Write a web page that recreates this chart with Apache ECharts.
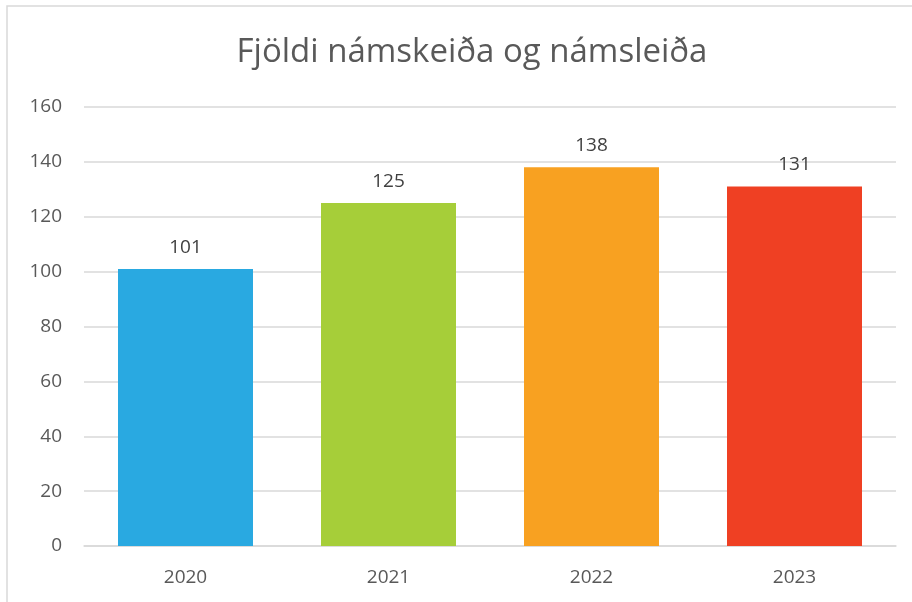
<!DOCTYPE html>
<html>
<head>
<meta charset="utf-8">
<script src="https://cdn.jsdelivr.net/npm/echarts@6/dist/echarts.min.js"></script>
<style>
  html, body { margin: 0; padding: 0; background: #fff; }
  #main { width: 912px; height: 602px; }
</style>
</head>
<body>
<div id="main"></div>
<script>
var titleText = 'Fjöldi námskeiða og námsleiða';
var years = ['2020', '2021', '2022', '2023'];
var counts = [101, 125, 138, 131];
var barColors = ['#29A9E1', '#A6CE39', '#F8A121', '#EF4023'];
var yTicks = [0, 20, 40, 60, 80, 100, 120, 140, 160];

var font = 'Open Sans, Liberation Sans, sans-serif';

var option = {
    animation: false,
    graphic: [{
        type: 'rect',
        shape: { x: 7, y: 6, width: 920, height: 620 },
        style: { fill: 'none', stroke: '#d9d9d9', lineWidth: 1.5 },
        silent: true
    }],
    title: {
        text: titleText,
        left: 467,
        top: 31,
        textAlign: 'center',
        textStyle: {
            fontFamily: font,
            fontWeight: 'normal',
            fontSize: 33,
            color: '#595959'
        }
    },
    grid: {
        left: 84,
        right: 16,
        top: 107,
        bottom: 56,
        containLabel: false
    },
    xAxis: {
        type: 'category',
        data: years,
        axisTick: { show: false },
        axisLine: { show: true, lineStyle: { color: '#d9d9d9', width: 1.5 } },
        axisLabel: {
            margin: 22,
            fontFamily: font,
            fontSize: 19,
            color: '#595959'
        }
    },
    yAxis: {
        type: 'value',
        min: yTicks[0],
        max: yTicks[yTicks.length - 1],
        interval: 20,
        axisLine: { show: false },
        axisTick: { show: false },
        splitLine: { lineStyle: { color: '#d9d9d9', width: 1.5 } },
        axisLabel: {
            margin: 22,
            fontFamily: font,
            fontSize: 19,
            color: '#595959'
        }
    },
    series: [{
        type: 'bar',
        barWidth: '66.5%',
        data: counts.map(function (v, i) {
            return { value: v, itemStyle: { color: barColors[i] } };
        }),
        label: {
            show: true,
            position: 'top',
            distance: 12,
            fontFamily: font,
            fontSize: 19,
            color: '#404040'
        }
    }]
};

var myChart = echarts.init(document.getElementById('main'));
myChart.setOption(option);
</script>
</body>
</html>
